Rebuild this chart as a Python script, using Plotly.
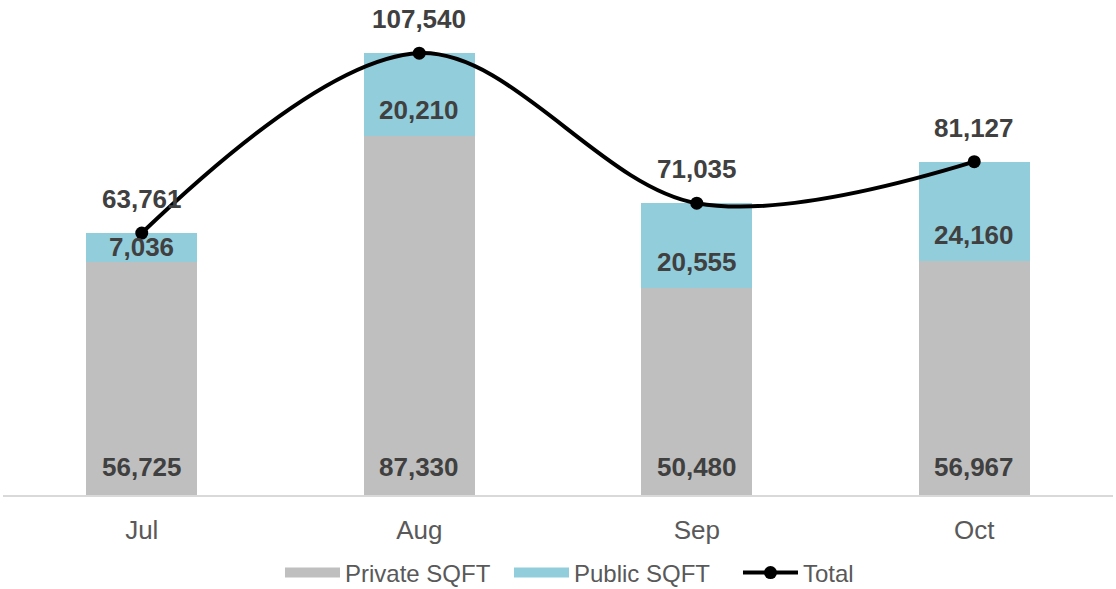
import plotly.graph_objects as go

months = ["Jul", "Aug", "Sep", "Oct"]
private_sqft = [56725, 87330, 50480, 56967]
public_sqft = [7036, 20210, 20555, 24160]
total_sqft = [63761, 107540, 71035, 81127]

W, H = 1116, 589
M_T, M_B, M_L, M_R = 2, 94, 3, 3
Y_MAX = 120000
px_per_unit = (H - M_T - M_B) / Y_MAX

GRAY = "#BFBFBF"
BLUE = "#92CDDC"
LABEL = "#404040"
AXIS_TXT = "#595959"
FONT = "Liberation Sans, Arial, sans-serif"

fig = go.Figure()
fig.add_trace(go.Bar(x=months, y=private_sqft, name="Private SQFT", marker_color=GRAY,
                     marker_line_width=0, showlegend=False, hoverinfo="y"))
fig.add_trace(go.Bar(x=months, y=public_sqft, name="Public SQFT", marker_color=BLUE,
                     marker_line_width=0, showlegend=False, hoverinfo="y"))
fig.add_trace(go.Scatter(x=months, y=total_sqft, name="Total", mode="lines+markers",
                         line=dict(color="black", width=4, shape="spline", smoothing=1.0),
                         marker=dict(color="black", size=13), showlegend=False))

# legend entries
fig.add_trace(go.Scatter(x=[None], y=[None], mode="lines", name="Private SQFT",
                         line=dict(color=GRAY, width=10)))
fig.add_trace(go.Scatter(x=[None], y=[None], mode="lines", name="Public SQFT",
                         line=dict(color=BLUE, width=10)))
fig.add_trace(go.Scatter(x=[None], y=[None], mode="lines+markers", name="Total",
                         line=dict(color="black", width=4), marker=dict(color="black", size=13)))

lab_font = dict(family=FONT, size=26, color=LABEL)
annotations = []
for m, pv, pu, tot in zip(months, private_sqft, public_sqft, total_sqft):
    annotations.append(dict(x=m, y=0, text=f"<b>{pv:,}</b>", showarrow=False,
                            yanchor="middle", yshift=28, font=lab_font))
    seg_px = pu * px_per_unit
    annotations.append(dict(x=m, y=pv, text=f"<b>{pu:,}</b>", showarrow=False,
                            yanchor="middle", yshift=min(26, seg_px / 2), font=lab_font))
    annotations.append(dict(x=m, y=tot, text=f"<b>{tot:,}</b>", showarrow=False,
                            yanchor="middle", yshift=34, font=lab_font))

fig.update_layout(
    width=W, height=H,
    margin=dict(t=M_T, b=M_B, l=M_L, r=M_R, autoexpand=False),
    barmode="stack", bargap=0.6,
    plot_bgcolor="white", paper_bgcolor="white",
    font=dict(family=FONT, color=AXIS_TXT),
    xaxis=dict(showline=True, linecolor="#D9D9D9", linewidth=2, showgrid=False,
               ticks="outside", tickcolor="rgba(0,0,0,0)", ticklen=11,
               tickfont=dict(family=FONT, size=26, color=AXIS_TXT)),
    yaxis=dict(visible=False, range=[0, Y_MAX], showgrid=False, zeroline=False),
    legend=dict(orientation="h", x=0.559, xanchor="center",
                yref="container", y=16 / H, yanchor="middle",
                font=dict(family=FONT, size=24, color=AXIS_TXT), itemwidth=55,
                entrywidth=159, entrywidthmode="pixels",
                traceorder="normal"),
    annotations=annotations,
)

fig.write_html("out.html", config={"displayModeBar": False},
               post_script="document.body.style.margin='0';")
